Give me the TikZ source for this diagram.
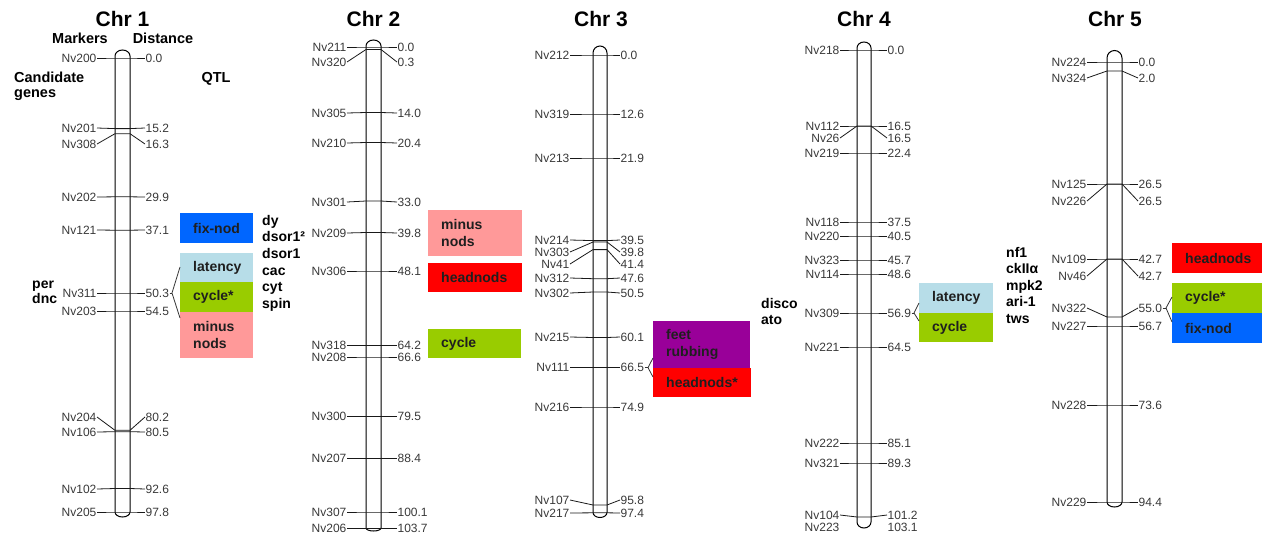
\documentclass[tikz,border=0pt]{standalone}
\usepackage{fontspec}
\setmainfont{Liberation Sans}
\definecolor{qblue}{RGB}{0,102,255}
\definecolor{qlat}{RGB}{183,221,232}
\definecolor{qcyc}{RGB}{153,204,0}
\definecolor{qmin}{RGB}{255,153,153}
\definecolor{qhead}{RGB}{255,0,0}
\definecolor{qfeet}{RGB}{153,0,153}
% bar: #1 left x, #2 right x, #3 top y, #4 bottom y, #5 rx, #6 ry top, #7 ry bottom
\newcommand\chrbar[7]{%
  \draw[cbar] (#1,#3) arc[start angle=180,end angle=0,x radius=#5,y radius=#6]
     -- (#2,#4) arc[start angle=0,end angle=-180,x radius=#5,y radius=#7] -- cycle;}
% marker: #1 name, #2 distance, #3 y on bar, #4 y of labels
\newcommand\mrk[4]{%
  \node[mlab,anchor=east] (l#1) at (\cLX,#4) {#1};
  \node[mlab,anchor=west] (r#1) at (\cRX,#4) {#2};
  \coordinate (bl#1) at (\cBL,#3);
  \coordinate (br#1) at (\cBR,#3);
  \draw[mline] (l#1.east) -- (bl#1) -- (br#1) -- (r#1.west);}
% qtl box: #1 name, #2 x1, #3 y1, #4 x2, #5 y2, #6 colour, #7 text
\newcommand\qbox[7]{%
  \node[fill=#6, anchor=north west, inner sep=0pt, minimum width={(#4-#2)*1pt},
        minimum height={(#5-#3)*1pt}] (#1) at (#2,#3) {};
  \node[qtl] (#1t) at ([xshift=13pt]#1.west) {#7};}
\begin{document}
\begin{tikzpicture}[x=1pt,y=-1pt,
  mlab/.style={inner sep=0.4pt, font=\fontsize{12}{13}\selectfont, text=black!78},
  mline/.style={line width=0.8pt, draw=black!90},
  cbar/.style={line width=1pt, fill=white, draw=black},
  ttl/.style={font=\bfseries\fontsize{21}{24}\selectfont, anchor=base, inner sep=0pt},
  hdr/.style={font=\bfseries\fontsize{14.5}{16}\selectfont, anchor=base, inner sep=0pt},
  gene/.style={font=\bfseries\fontsize{14}{16}\selectfont, anchor=base west, inner sep=0pt},
  qtl/.style={anchor=west, inner sep=0pt, align=left,
    font=\bfseries\fontsize{14}{17}\selectfont, text=black!88},
  brk/.style={line width=0.8pt, draw=black!80},
]
\useasboundingbox (0,0) rectangle (1262,539);

% ---------------- titles and headers
\node[ttl] (t1) at (122.5,26) {Chr 1};
\node[ttl] (t2) at (373.5,26) {Chr 2};
\node[ttl] (t3) at (601,26) {Chr 3};
\node[ttl] (t4) at (864,26) {Chr 4};
\node[ttl] (t5) at (1115,26) {Chr 5};
\node[hdr] (hmark) at (80,43) {Markers};
\node[hdr] (hdist) at (163,43) {Distance};
\node[hdr,anchor=base west] (hcand) at (14,82) {Candidate};
\node[hdr,anchor=base west] (hgen) at (14,97) {genes};
\node[hdr] (hqtl) at (216,82) {QTL};

% ---------------- QTL boxes
\qbox{q1a}{180}{213}{253}{243}{qblue}{fix-nod}
\qbox{q1b}{180}{253}{253}{282}{qlat}{latency}
\qbox{q1c}{180}{282}{253}{312}{qcyc}{cycle*}
\qbox{q1d}{180}{312}{253}{358}{qmin}{minus\\nods}
\qbox{q2a}{428}{210}{522}{256}{qmin}{minus\\nods}
\qbox{q2b}{428}{263}{522}{292}{qhead}{headnods}
\qbox{q2c}{428}{329}{521}{358}{qcyc}{cycle}
\qbox{q3a}{653}{321}{750}{368}{qfeet}{feet\\rubbing}
\qbox{q3b}{653}{368}{751}{397}{qhead}{headnods*}
\qbox{q4a}{919}{283}{993}{313}{qlat}{latency}
\qbox{q4b}{919}{313}{993}{342}{qcyc}{cycle}
\qbox{q5a}{1172}{243}{1262}{273}{qhead}{headnods}
\qbox{q5b}{1172}{283}{1262}{313}{qcyc}{cycle*}
\qbox{q5c}{1172}{313}{1262}{343}{qblue}{fix-nod}

% ---------------- Chr 1
\def\cLX{97}\def\cBL{115}\def\cBR{130}\def\cRX{145}
\chrbar{115}{130}{56}{512}{7.5pt}{6pt}{5pt}
\mrk{Nv200}{0.0}{58}{58}
\mrk{Nv201}{15.2}{128.6}{128}
\mrk{Nv308}{16.3}{133.7}{144}
\mrk{Nv202}{29.9}{196.8}{197}
\mrk{Nv121}{37.1}{230.2}{230}
\mrk{Nv311}{50.3}{293}{293}
\mrk{Nv203}{54.5}{311}{311}
\mrk{Nv204}{80.2}{430.3}{417}
\mrk{Nv106}{80.5}{431.7}{432}
\mrk{Nv102}{92.6}{488.5}{489}
\mrk{Nv205}{97.8}{512}{512}

% ---------------- Chr 2
\def\cLX{347}\def\cBL{366}\def\cBR{381}\def\cRX{397}
\chrbar{366}{381}{46}{528}{7.5pt}{6pt}{3pt}
\mrk{Nv211}{0.0}{47}{47}
\mrk{Nv320}{0.3}{49.5}{62}
\mrk{Nv305}{14.0}{112.5}{113}
\mrk{Nv210}{20.4}{142.5}{143}
\mrk{Nv301}{33.0}{201}{202}
\mrk{Nv209}{39.8}{232.5}{233}
\mrk{Nv306}{48.1}{271}{271}
\mrk{Nv318}{64.2}{345.5}{345.5}
\mrk{Nv208}{66.6}{357}{357}
\mrk{Nv300}{79.5}{416.5}{416.5}
\mrk{Nv207}{88.4}{458.5}{458.5}
\mrk{Nv307}{100.1}{512}{512}
\mrk{Nv206}{103.7}{528.5}{528.5}

% ---------------- Chr 3
\def\cLX{570}\def\cBL{593}\def\cBR{607}\def\cRX{620}
\chrbar{593}{607}{53}{512.5}{7pt}{7pt}{5pt}
\mrk{Nv212}{0.0}{55}{55}
\mrk{Nv319}{12.6}{114}{114}
\mrk{Nv213}{21.9}{158}{158}
\mrk{Nv214}{39.5}{240.6}{240}
\mrk{Nv303}{39.8}{242}{252}
\mrk{Nv41}{41.4}{249.6}{264}
\mrk{Nv312}{47.6}{278.7}{278}
\mrk{Nv302}{50.5}{292}{293}
\mrk{Nv215}{60.1}{337.5}{337}
\mrk{Nv111}{66.5}{367.6}{367.6}
\mrk{Nv216}{74.9}{407}{407}
\mrk{Nv107}{95.8}{505}{500}
\mrk{Nv217}{97.4}{512.8}{513}

% ---------------- Chr 4
\def\cLX{840}\def\cBL{857}\def\cBR{871}\def\cRX{887}
\chrbar{857}{871}{48}{522}{7pt}{6pt}{6pt}
\mrk{Nv218}{0.0}{50}{50}
\mrk{Nv112}{16.5}{126}{126}
\mrk{Nv26}{16.5}{126}{138}
\mrk{Nv219}{22.4}{153}{153}
\mrk{Nv118}{37.5}{222}{222}
\mrk{Nv220}{40.5}{236}{236}
\mrk{Nv323}{45.7}{260}{260}
\mrk{Nv114}{48.6}{274}{274}
\mrk{Nv309}{56.9}{313}{313}
\mrk{Nv221}{64.5}{347}{347}
\mrk{Nv222}{85.1}{443}{443}
\mrk{Nv321}{89.3}{463}{463}
\mrk{Nv104}{101.2}{517}{515}
\node[mlab,anchor=east] (lNv223) at (\cLX,527) {Nv223};
\node[mlab,anchor=west] (rNv223) at (\cRX,527) {103.1};

% ---------------- Chr 5
\def\cLX{1087}\def\cBL{1107}\def\cBR{1122}\def\cRX{1138}
\chrbar{1107}{1122}{58}{502}{7.5pt}{7.5pt}{5pt}
\mrk{Nv224}{0.0}{62}{62}
\mrk{Nv324}{2.0}{71}{78}
\mrk{Nv125}{26.5}{184}{184}
\mrk{Nv226}{26.5}{184}{201}
\mrk{Nv109}{42.7}{259}{259}
\mrk{Nv46}{42.7}{259}{276}
\mrk{Nv322}{55.0}{317}{308}
\mrk{Nv227}{56.7}{326}{326}
\mrk{Nv228}{73.6}{405}{405}
\mrk{Nv229}{94.4}{502}{502}

% ---------------- brackets
\coordinate (k1) at (172,293); \coordinate (k1a) at (180,267); \coordinate (k1b) at (180,318);
\draw[brk] (rNv311.east) -- (k1); \draw[brk] (k1a) -- (k1) -- (k1b);
\coordinate (k3) at (648,367.6); \coordinate (k3a) at (653,358); \coordinate (k3b) at (653,377);
\draw[brk] (rNv111.east) -- (k3); \draw[brk] (k3a) -- (k3) -- (k3b);
\coordinate (k4) at (914,313); \coordinate (k4a) at (919,303); \coordinate (k4b) at (919,321);
\draw[brk] (rNv309.east) -- (k4); \draw[brk] (k4a) -- (k4) -- (k4b);
\coordinate (k5) at (1166,308); \coordinate (k5a) at (1172,297); \coordinate (k5b) at (1172,322);
\draw[brk] (rNv322.east) -- (k5); \draw[brk] (k5a) -- (k5) -- (k5b);

% ---------------- candidate genes
\node[gene] (g1a) at (262,225) {dy};
\node[gene] (g1b) at (262,241.5) {dsor1²};
\node[gene] (g1c) at (262,258) {dsor1};
\node[gene] (g1d) at (262,275) {cac};
\node[gene] (g1e) at (262,291.5) {cyt};
\node[gene] (g1f) at (262,308) {spin};
\node[gene] (g0a) at (32,288) {per};
\node[gene] (g0b) at (32,303) {dnc};
\node[gene] (g4a) at (761,308) {disco};
\node[gene] (g4b) at (761,324) {ato};
\node[gene] (g5a) at (1006,257) {nf1};
\node[gene] (g5b) at (1006,273.5) {ckIIα};
\node[gene] (g5c) at (1006,290) {mpk2};
\node[gene] (g5d) at (1006,306.5) {ari-1};
\node[gene] (g5e) at (1006,323) {tws};
\end{tikzpicture}
\end{document}
